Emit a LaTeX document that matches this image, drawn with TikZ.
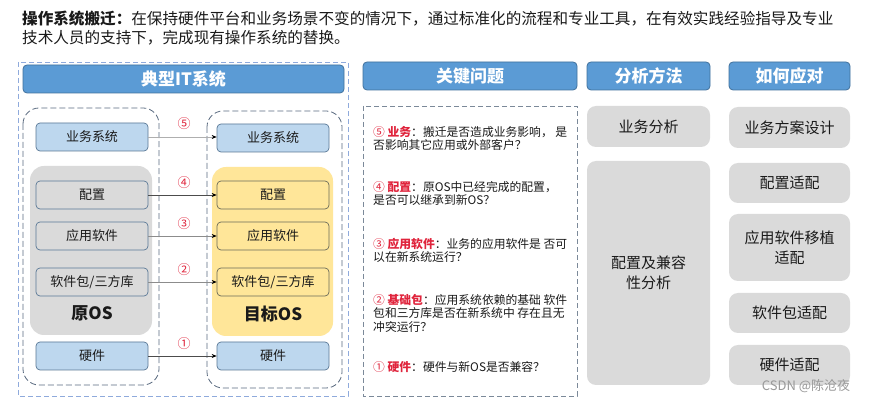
\documentclass[tikz,border=0pt]{standalone}
\usepackage{fontspec}
\setmainfont{Noto Sans CJK SC}
\usetikzlibrary{arrows.meta}
\definecolor{hdr}{HTML}{5B9BD5}
\definecolor{hdrline}{HTML}{41719C}
\definecolor{lblue}{HTML}{BDD7EE}
\definecolor{nodeline}{HTML}{5A7896}
\definecolor{graybg}{HTML}{DADADA}
\definecolor{ynode}{HTML}{FFE699}
\definecolor{yline}{HTML}{6B6B5A}
\definecolor{numred}{HTML}{E0243C}
\definecolor{txt}{HTML}{1A1A1A}
\definecolor{dashblue}{HTML}{8FAADC}
\definecolor{dashdark}{HTML}{5A6B80}
\definecolor{conncol}{HTML}{8C8C8C}
\newcommand\kwd[2]{\textcolor{numred}{#1 \textbf{#2}}：}
\tikzset{
  hdrbox/.style={draw=hdrline, fill=hdr, rounded corners=4pt, text=white, line width=0.8pt,
    font=\fontsize{17}{20}\selectfont\bfseries},
  lnode/.style={draw=nodeline, rounded corners=4pt, minimum width=112pt, minimum height=28pt,
    font=\fontsize{13}{15}\selectfont, line width=0.7pt},
  bluenode/.style={lnode, fill=lblue},
  graynode/.style={lnode, fill=graybg},
  yellownode/.style={lnode, fill=ynode, draw=yline},
  grbox/.style={fill=graybg, rounded corners=9pt, font=\fontsize{15}{20}\selectfont, align=center},
  num/.style={text=numred, font=\fontsize{13}{15}\selectfont},
  conn/.style={draw=conncol, line width=0.6pt, -{Stealth[length=5pt,width=4pt,color=black]}},
  item/.style={anchor=north west, align=left, font=\fontsize{11.8}{13.5}\selectfont},
  oslabel/.style={font=\fontsize{17}{20}\selectfont\bfseries},
}
\begin{document}
\begin{tikzpicture}[x=1pt,y=-1pt, every node/.style={inner sep=0pt, text=txt}]
\useasboundingbox (0,0) rectangle (871,403);
\fill[white] (0,0) rectangle (871,403);

% title
\node[anchor=base west, font=\fontsize{15.6}{18}\selectfont] (t1) at (22,25)
  {\textbf{操作系统搬迁：}在保持硬件平台和业务场景不变的情况下，通过标准化的流程和专业工具，在有效实践经验指导及专业};
\node[anchor=base west, font=\fontsize{15.6}{18}\selectfont] (t2) at (22,44)
  {技术人员的支持下，完成现有操作系统的替换。};

% left frame
\draw[draw=dashblue, line width=0.8pt, dash pattern=on 5pt off 3pt] (18,62) rectangle (348,396);
\node[hdrbox, minimum width=321pt, minimum height=28pt] (h1) at (183.5,79) {典型IT系统};
\draw[draw=dashdark, line width=0.8pt, dash pattern=on 6pt off 3pt, rounded corners=16pt] (23,108) rectangle (159,385);
\draw[draw=dashdark, line width=0.8pt, dash pattern=on 6pt off 3pt, rounded corners=16pt] (207,111) rectangle (342,388);
\fill[graybg, rounded corners=14pt] (30,166) rectangle (152,335);
\fill[ynode, rounded corners=14pt] (212,167) rectangle (333,336);

\node[bluenode] (l5) at (92,137) {业务系统};
\node[graynode] (l4) at (92,195) {配置};
\node[graynode] (l3) at (92,236) {应用软件};
\node[graynode] (l2) at (92,282) {软件包/三方库};
\node[oslabel] (lo) at (92,313) {原OS};
\node[bluenode] (l1) at (92,356) {硬件};

\node[bluenode] (r5) at (273,138) {业务系统};
\node[yellownode] (r4) at (273,195) {配置};
\node[yellownode] (r3) at (273,236) {应用软件};
\node[yellownode] (r2) at (273,282) {软件包/三方库};
\node[oslabel] (ro) at (273,314) {目标OS};
\node[bluenode] (r1) at (273,356) {硬件};

\node[num] (n5) at (184,124) {⑤};
\node[num] (n4) at (184,183) {④};
\node[num] (n3) at (184,224) {③};
\node[num] (n2) at (184,270) {②};
\node[num] (n1) at (184,344) {①};

\draw[conn, draw=conncol!70] (l5.east) -- (r5.west |- l5.east);
\draw[conn, draw=black!70] (l4) -- (r4);
\draw[conn] (l3) -- (r3);
\draw[conn] (l2) -- (r2);
\draw[conn, draw=black!70] (l1) -- (r1);

% middle column
\node[hdrbox, minimum width=214pt, minimum height=28pt] (h2) at (470,76) {关键问题};
\draw[draw=dashdark!80, line width=0.8pt, dash pattern=on 5pt off 3pt] (363,106) rectangle (577,396);
\node[item] (q5) at (373,126) {\kwd{⑤}{业务}搬迁是否造成业务影响， 是\\否影响其它应用或外部客户？};
\node[item] (q4) at (373,181) {\kwd{④}{配置}原OS中已经完成的配置，\\是否可以继承到新OS？};
\node[item] (q3) at (373,238) {\kwd{③}{应用软件}业务的应用软件是 否可\\以在新系统运行？};
\node[item] (q2) at (373,294) {\kwd{②}{基础包}应用系统依赖的基础 软件\\包和三方库是否在新系统中 存在且无\\冲突运行？};
\node[item] (q1) at (373,361) {\kwd{①}{硬件}硬件与新OS是否兼容？};

% right columns
\node[hdrbox, minimum width=123pt, minimum height=28pt] (h3) at (648.5,76) {分析方法};
\node[hdrbox, minimum width=121pt, minimum height=28pt] (h4) at (789.5,76) {如何应对};

\node[grbox, minimum width=123pt, minimum height=41pt] (a1) at (648.5,126.5) {业务分析};
\node[grbox, minimum width=123pt, minimum height=224pt] (a2) at (648.5,273) {配置及兼容\\性分析};

\node[grbox, minimum width=121pt, minimum height=41pt] (b1) at (789.5,127.5) {业务方案设计};
\node[grbox, minimum width=121pt, minimum height=40pt] (b2) at (789.5,183) {配置适配};
\node[grbox, minimum width=121pt, minimum height=67pt] (b3) at (789.5,247.5) {应用软件移植\\适配};
\node[grbox, minimum width=121pt, minimum height=40pt] (b4) at (789.5,313) {软件包适配};
\node[grbox, minimum width=121pt, minimum height=40pt] (b5) at (789.5,365) {硬件适配};

\node[text=black!40, font=\fontsize{13}{15}\selectfont] (wm) at (806,386) {CSDN @陈沧夜};
\end{tikzpicture}
\end{document}
